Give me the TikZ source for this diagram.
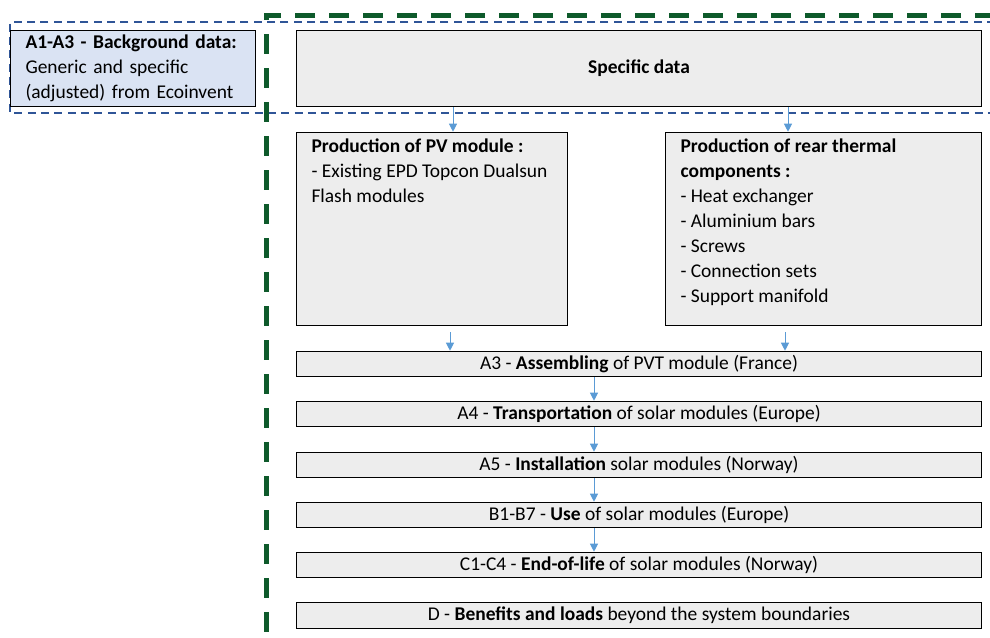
\documentclass[tikz,border=0pt]{standalone}
\usepackage{fontspec}
\setmainfont{Carlito}
\usetikzlibrary{arrows.meta}
\definecolor{boxgrey}{HTML}{EDEDED}
\definecolor{bgblue}{HTML}{DAE3F3}
\definecolor{lineblue}{HTML}{2F5597}
\definecolor{arrowblue}{HTML}{5B9BD5}
\definecolor{boundgreen}{HTML}{0E5A2B}

\begin{document}
\begin{tikzpicture}[x=0.75pt,y=-0.75pt]
    \tikzstyle{every node}+=[inner sep=0pt, font=\fontsize{14.6}{18.75}\selectfont]
    \tikzstyle{box}=[draw=black, line width=0.75pt, fill=boxgrey, anchor=north west]
    \tikzstyle{stage}=[box, minimum width=513.75pt, minimum height=19pt]
    \tikzstyle{flow}=[draw=arrowblue, line width=0.75pt, -{Triangle[length=6pt,width=6pt]}]
    \useasboundingbox (0,0) rectangle (990,637);
    \draw [lineblue, line width=1.5pt, dash pattern=on 6pt off 4pt] (995,22) -- (10,22) -- (10,112.5) -- (995,112.5);
    \draw [boundgreen, line width=3.75pt, dash pattern=on 15pt off 10.5pt] (995,15) -- (266,15) -- (266,640);
    \draw (10,30) node [box, fill=bgblue, minimum height=57pt, text width=161.25pt, inner xsep=11.25pt, align=left] (bg) {\textbf{A1-A3 - Background data:}\\Generic and specific\\(adjusted) from Ecoinvent};
    \draw (296,30) node [box, minimum width=513.75pt, minimum height=57pt] (spec) {\textbf{Specific data}};
    \draw (296,131.7) node [box, inner xsep=11.25pt, inner ysep=5pt] (pv) {\parbox[t][135.2pt][t]{181pt}{\textbf{Production of PV module :}\\- Existing EPD Topcon Dualsun\\Flash modules}};
    \draw (665,131.7) node [box, inner xsep=11.25pt, inner ysep=5pt] (rear) {\parbox[t][135.2pt][t]{214.5pt}{\textbf{Production of rear thermal}\\\textbf{components :}\\- Heat exchanger\\- Aluminium bars\\- Screws\\- Connection sets\\- Support manifold}};
    \draw (296,350.7) node [stage] (a3) {A3 - \textbf{Assembling} of PVT module (France)};
    \draw (296,400.7) node [stage] (a4) {A4 - \textbf{Transportation} of solar modules (Europe)};
    \draw (296,451.7) node [stage] (a5) {A5 - \textbf{Installation} solar modules (Norway)};
    \draw (296,501.7) node [stage] (use) {B1-B7 - \textbf{Use} of solar modules (Europe)};
    \draw (296,551.7) node [stage] (eol) {C1-C4 - \textbf{End-of-life} of solar modules (Norway)};
    \draw (296,602.3) node [stage] (ben) {D - \textbf{Benefits and loads} beyond the system boundaries};
    \coordinate (colpv) at (453,0);
    \coordinate (colrear) at (788,0);
    \coordinate (colpvout) at (450,0);
    \coordinate (colrearout) at (785,0);
    \coordinate (colmid) at (594,0);
    \draw [flow] (spec.south -| colpv) -- (pv.north -| colpv);
    \draw [flow] (spec.south -| colrear) -- (rear.north -| colrear);
    \draw [flow, shorten <=4.5pt] (pv.south -| colpvout) -- (a3.north -| colpvout);
    \draw [flow, shorten <=4.5pt] (rear.south -| colrearout) -- (a3.north -| colrearout);
    \draw [flow] (a3.south -| colmid) -- (a4.north -| colmid);
    \draw [flow] (a4.south -| colmid) -- (a5.north -| colmid);
    \draw [flow] (a5.south -| colmid) -- (use.north -| colmid);
    \draw [flow] (use.south -| colmid) -- (eol.north -| colmid);
\end{tikzpicture}
\end{document}
